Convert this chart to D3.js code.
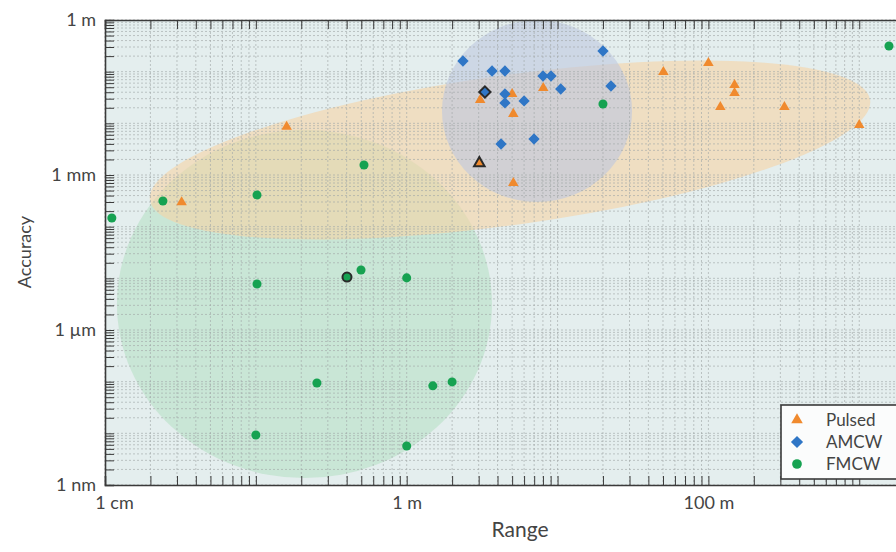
<!DOCTYPE html>
<html>
<head>
<meta charset="utf-8">
<script src="https://cdn.jsdelivr.net/npm/d3@7"></script>
<style>
body { margin: 0; background: #fff; }
text { font-family: Lato, "Open Sans", sans-serif; fill: #444; }
</style>
</head>
<body>
<div id="chart"></div>
<script>
// values are in metres: range on x, accuracy on y
const seriesNames = ["Pulsed", "AMCW", "FMCW"];

const pulsedRange = [0.160, 0.0322, 3.07, 5.0, 5.09, 8.04, 3.03, 5.09, 50.3, 100, 149, 149, 120, 319, 1000];
const pulsedAccuracy = [0.0086, 2.96e-4, 0.0283, 0.037, 0.0152, 0.0483, 0.0017, 7.0e-4, 0.0986, 0.147, 0.055, 0.0386, 0.0207, 0.0207, 0.0093];

const amcwRange = [2.36, 3.68, 4.48, 8.01, 9.05, 20.0, 22.6, 10.5, 3.30, 4.48, 4.48, 6.0, 4.22, 6.98];
const amcwAccuracy = [0.161, 0.103, 0.103, 0.0824, 0.0824, 0.251, 0.0528, 0.0462, 0.0404, 0.037, 0.0248, 0.0271, 0.00398, 0.00498];

const fmcwRange = [20.0, 1574, 0.0111, 0.0242, 0.1018, 0.521, 0.1018, 0.402, 0.498, 1.0, 0.254, 1.49, 2.0, 0.1, 1.0];
const fmcwAccuracy = [0.0237, 0.314, 1.47e-4, 3.14e-4, 4.1e-4, 0.00156, 7.78e-6, 1.06e-5, 1.45e-5, 1.02e-5, 9.4e-8, 8.3e-8, 9.9e-8, 9.3e-9, 5.7e-9];

// one outlined marker per technique
const highlighted = [6, 8, 7];

// shaded regions: centre (m), half-widths in decades, tilt in degrees
const regionCenterRange = [0.21, 4.84, 7.31];
const regionCenterAccuracy = [3.19e-6, 3.05e-3, 0.0173];
const regionHalfX = [1.243, 2.41, 0.63];
const regionHalfY = [3.37, 1.45, 1.76];
const regionTilt = [0, -7.9, 0];

const xTickValues = [0.01, 1, 100];
const xTickLabels = ["1 cm", "1 m", "100 m"];
const yTickValues = [1, 1e-3, 1e-6, 1e-9];
const yTickLabels = ["1 m", "1 mm", "1 \u00b5m", "1 nm"];

const width = 896, height = 552;
const plotLeft = 105, plotTop = 20, plotBottom = 485;
const xMax = 2000;

const colors = ["#f08a2e", "#2f76c6", "#16a251"];
const regionColors = ["#a9dcb9", "#f5d3a6", "#bec8de"];
const regionOpacity = [0.45, 0.62, 0.62];

const x = d3.scaleLog().domain([0.01, xMax]).range([plotLeft, plotLeft + Math.log10(xMax / 0.01) * 150.85]);
const y = d3.scaleLog().domain([1e-9, 1]).range([plotBottom, plotTop]);
const plotRight = x(xMax);

const svg = d3.select("#chart").append("svg").attr("width", width).attr("height", height);

svg.append("rect").attr("x", plotLeft).attr("y", plotTop)
    .attr("width", plotRight - plotLeft).attr("height", plotBottom - plotTop)
    .attr("fill", "#e4eeee");

// regions
const decX = x(10) - x(1), decY = y(1) - y(10);
const regions = svg.append("g");
regionCenterRange.forEach((c, i) => {
    regions.append("ellipse")
        .attr("transform", `translate(${x(c)},${y(regionCenterAccuracy[i])}) rotate(${regionTilt[i]})`)
        .attr("rx", regionHalfX[i] * decX)
        .attr("ry", regionHalfY[i] * decY)
        .attr("fill", regionColors[i])
        .attr("fill-opacity", regionOpacity[i]);
});

// minor log ticks
function logTicks(lo, hi) {
    const out = [];
    for (let e = Math.floor(Math.log10(lo)); e <= Math.ceil(Math.log10(hi)); e++) {
        for (let m = 1; m <= 9; m++) {
            const v = m * Math.pow(10, e);
            if (v >= lo * 0.999 && v <= hi * 1.001) out.push(+v.toPrecision(3));
        }
    }
    return out;
}
const xMinor = logTicks(0.01, xMax);
const yMinor = logTicks(1e-9, 1);

const grid = svg.append("g").attr("stroke", "#a2a9a9").attr("stroke-width", 0.75)
    .attr("stroke-dasharray", "2,2").attr("stroke-opacity", 0.85);
grid.selectAll(".gx").data(xMinor).enter().append("line")
    .attr("x1", d => x(d)).attr("x2", d => x(d)).attr("y1", plotTop).attr("y2", plotBottom);
grid.selectAll(".gy").data(yMinor).enter().append("line")
    .attr("x1", plotLeft).attr("x2", plotRight).attr("y1", d => y(d)).attr("y2", d => y(d));

// axes with inward ticks
const fmtX = d => { const i = xTickValues.indexOf(d); return i < 0 ? "" : xTickLabels[i]; };
const fmtY = d => { const i = yTickValues.findIndex(v => Math.abs(Math.log10(v) - Math.log10(d)) < 1e-6); return i < 0 ? "" : yTickLabels[i]; };

const gx = svg.append("g").attr("transform", `translate(0,${plotBottom})`)
    .call(d3.axisBottom(x).tickValues(xMinor).tickSize(-9).tickPadding(11).tickFormat(fmtX));
const gxTop = svg.append("g").attr("transform", `translate(0,${plotTop})`)
    .call(d3.axisTop(x).tickValues(xMinor).tickSize(-9).tickFormat(""));
const gy = svg.append("g").attr("transform", `translate(${plotLeft},0)`)
    .call(d3.axisLeft(y).tickValues(yMinor).tickSize(-9).tickPadding(9).tickFormat(fmtY));

[gx, gxTop, gy].forEach(g => {
    g.select(".domain").attr("stroke", "#3a3a3a").attr("stroke-width", 1.6);
    g.selectAll(".tick line").attr("stroke", "#3a3a3a").attr("stroke-width", 1);
    g.selectAll(".tick text").style("font-size", "18px").style("fill", "#444");
});
gx.selectAll(".tick text").filter(d => d === 0.01).attr("dx", 9);

// markers
const symbols = [d3.symbolTriangle, d3.symbolSquare, d3.symbolCircle];
const sizes = [48, 64, 64];
const rotations = [0, 45, 0];
const seriesRange = [pulsedRange, amcwRange, fmcwRange];
const seriesAccuracy = [pulsedAccuracy, amcwAccuracy, fmcwAccuracy];

const plot = svg.append("g");
seriesRange.forEach((rs, s) => {
    const pts = rs.map((r, i) => ({ r, a: seriesAccuracy[s][i], hi: i === highlighted[s] }));
    plot.selectAll(".m" + s).data(pts).enter().append("path")
        .attr("d", d3.symbol().type(symbols[s]).size(sizes[s]))
        .attr("transform", d => `translate(${x(d.r)},${y(d.a)}) rotate(${rotations[s]})`)
        .attr("fill", colors[s])
        .attr("stroke", d => d.hi ? "#2a2a2a" : "none")
        .attr("stroke-width", 2);
});

// legend
const legend = svg.append("g").attr("transform", "translate(781,405)");
legend.append("rect").attr("width", 140).attr("height", 74)
    .attr("fill", "#fbfcfc").attr("stroke", "#3a3a3a").attr("stroke-width", 1.6);
seriesNames.forEach((name, i) => {
    const row = legend.append("g").attr("transform", `translate(16,${15 + i * 22})`);
    row.append("path").attr("d", d3.symbol().type(symbols[i]).size(sizes[i] + 10))
        .attr("transform", `rotate(${rotations[i]})`).attr("fill", colors[i]);
    row.append("text").attr("x", 29).attr("y", 6)
        .style("font-size", "17px").text(name);
});

// axis titles
svg.append("text").attr("x", 520).attr("y", 537).attr("text-anchor", "middle")
    .style("font-size", "21px").text("Range");
svg.append("text").attr("transform", "translate(31,252) rotate(-90)").attr("text-anchor", "middle")
    .style("font-size", "18px").text("Accuracy");
</script>
</body>
</html>
